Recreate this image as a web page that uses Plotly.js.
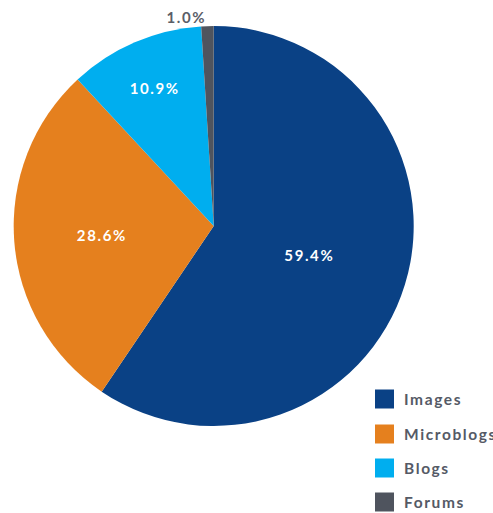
<!DOCTYPE html>
<html>
<head>
<meta charset="utf-8">
<script src="https://cdn.plot.ly/plotly-3.0.1.min.js"></script>
<style>
html,body{margin:0;padding:0;background:#fff;}
#chart{width:493px;height:513px;}
#chart text{letter-spacing:1.6px;}
</style>
</head>
<body>
<div id="chart"></div>
<script>
var labels = ["Images", "Microblogs", "Blogs", "Forums"];
var values = [59.4, 28.6, 10.9, 1.0];
var colors = ["#0a4185", "#e5801e", "#00aeef", "#4f545e"];
var textColors = ["#ffffff", "#ffffff", "#ffffff", "#5a5e68"];
var textPositions = ["inside", "inside", "inside", "outside"];

var W = 493, H = 513;
var cx = 213.7, cy = 226, r = 200;

var trace = {
  type: "pie",
  labels: labels,
  values: values,
  sort: false,
  direction: "clockwise",
  rotation: 0,
  marker: {colors: colors, line: {width: 0}},
  texttemplate: "%{value:.1f}%",
  textposition: textPositions,
  insidetextorientation: "horizontal",
  textfont: {family: "Lato, 'Open Sans', sans-serif", size: 15, color: textColors, weight: 700},
  hoverinfo: "none",
  showlegend: false,
  domain: {x: [(cx - r) / W, (cx + r) / W], y: [(H - cy - r) / H, (H - cy + r) / H]}
};

var shapes = [], annotations = [];
var legY = [399, 434, 468, 502];
labels.forEach(function (lab, i) {
  var yc = legY[i];
  shapes.push({type: "rect", xref: "paper", yref: "paper",
    x0: 375 / W, x1: 394 / W, y0: (H - yc - 9.5) / H, y1: (H - yc + 9.5) / H,
    fillcolor: colors[i], line: {width: 0}});
  annotations.push({xref: "paper", yref: "paper", x: 402 / W, y: (H - yc) / H,
    xanchor: "left", yanchor: "middle", showarrow: false, text: lab, align: "left",
    font: {family: "Lato, 'Open Sans', sans-serif", size: 15.5, color: "#555a66", weight: 700}});
});

var layout = {
  width: W, height: H,
  margin: {l: 0, r: 0, t: 0, b: 0},
  paper_bgcolor: "#ffffff",
  showlegend: false,
  shapes: shapes,
  annotations: annotations
};

Plotly.newPlot("chart", [trace], layout, {displayModeBar: false, staticPlot: true}).then(function (gd) {
  // keep the letter-spaced legend labels starting at their left anchor
  var nodes = gd.querySelectorAll(".annotation-text");
  nodes.forEach(function (t) {
    var bb = t.getBBox();
    var x = parseFloat(t.getAttribute("x")) || 0;
    t.setAttribute("text-anchor", "start");
    t.setAttribute("x", x - bb.width / 2 + (bb.x + bb.width / 2 - x));
  });
});
</script>
</body>
</html>
